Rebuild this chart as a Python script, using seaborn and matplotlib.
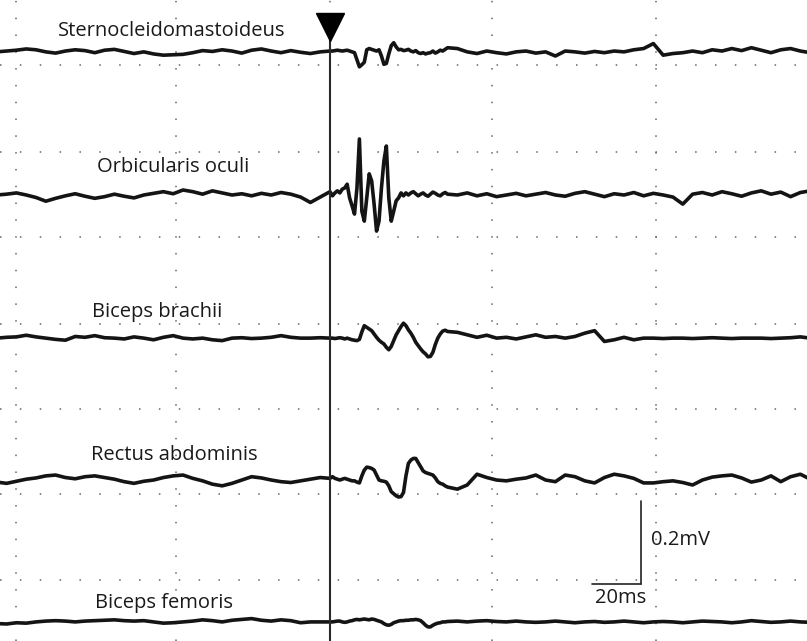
import numpy as np
import pandas as pd
import matplotlib
matplotlib.use('Agg')
import matplotlib.pyplot as plt
import seaborn as sns

# sample times (ms, stimulus at 0)
time_ms = [-136, -132, -128, -124, -120, -116, -112, -108, -104, -100,
           -96, -92, -88, -84, -80, -76, -72, -68, -64, -60,
           -56, -52, -48, -44, -40, -36, -32, -28, -24, -20,
           -16, -12, -8, -4, 0,
           1, 2, 3, 4, 5, 6, 7, 8, 9, 10, 11, 12, 13, 14, 15, 16,
           17, 18, 19, 20, 21, 22, 23, 24, 25, 26, 27, 28, 29, 30, 31, 32,
           33, 34, 35, 36, 37, 38, 39, 40, 41, 42, 43, 44, 45, 46, 47, 48,
           52, 56, 60, 64, 68, 72, 76, 80, 84, 88, 92, 96, 100, 104, 108,
           112, 116, 120, 124, 128, 132, 136, 140, 144, 148, 152, 156, 160,
           164, 168, 172, 176, 180, 184, 188, 192, 196]

# amplitudes (uV)
sterno = [0, 2, 4, 7, 5, 0, -3, 2, 5, 3, -2, 4, 6, 1, -4, 0, -5, -8, -7, -6,
          -2, 3, 1, 5, 2, -3, 4, 7, 2, -2, 3, -1, -4, 0, 2,
          2, 3, 4, 3, 2, 3, 4, 2, 0, -2, -19, -36, -31, -25, 5, 8,
          6, 4, 2, 5, -10, -30, -28, -5, 15, 22, 12, 5, 6, 3, 4, 6,
          2, 0, 3, -2, -4, -2, -5, -3, -2, 2, -3, 0, 4, 2, 6, 10,
          8, 0, -4, 2, -2, -5, 0, 2, -3, 0, -10, 2, 0, -3, 1,
          -2, 2, 0, 5, 8, 20, -8, -4, -2, 2, -2, 5, 2,
          8, 3, 10, 4, -2, 5, 8, 2, -2]

orbicularis = [0, 2, 5, 0, -6, -15, -8, -2, 3, -3, -8, -4, 2, -3, -7, 0, 4, 8, 3, 12,
               8, 2, 10, 5, 0, 3, -2, 4, 0, 6, 2, -5, -18, -5, 8,
               -2, 5, 10, 5, 14, 17, 26, -7, -26, -46, 17, 135, -39, -63, -7, 51,
               34, -22, -87, -63, 17, 82, 118, -7, -63, -39, -14, -7, 5, -2, 5, 0,
               5, 8, 3, -2, 2, 5, 0, -3, 2, 7, 4, 0, -2, 3, 6, 2,
               0, 5, -2, 3, -4, 0, 4, -2, 2, 6, 0, -3, 4, 8, 2,
               -4, 3, 0, 6, -2, 4, 0, -5, -22, 2, 6, 0, 8,
               3, -3, 5, 10, 2, 7, -4, 6, 10]

biceps_brachii = [0, 2, 3, 7, 3, 0, -3, -5, 4, 2, 6, 1, 0, -2, 3, 0, -4, 2, 6, 0,
                  -2, 0, -4, -6, 0, 1, -1, 0, 2, 6, 2, 0, 0, 1, 0,
                  0, -1, 0, 1, 0, -2, 0, -2, -4, -5, -6, -3, 15, 30, 26, 22,
                  18, 10, 2, -5, -10, -14, -22, -28, -20, -6, 8, 18, 28, 36, 30, 20,
                  12, 2, -10, -18, -26, -33, -38, -45, -44, -34, -15, 0, 10, 17, 19, 16,
                  14, 8, 2, 7, 0, 2, -2, 3, 8, 2, 4, 0, 4, 12, 18,
                  -8, -4, 2, -4, 0, 0, -1, 0, 0, -1, 0, 1, 0,
                  -1, 0, 0, 0, -1, 0, 1, 3, 0]

rectus = [-5, -8, -3, 2, 5, 10, 12, 6, 3, 8, 10, 6, 2, -4, -8, -3, 0, 6, 10, 12,
          4, -2, -10, -14, -8, 0, 8, 5, 0, -4, -6, -2, 2, 6, 4,
          8, 4, 2, 0, 2, 4, 2, 0, -2, -2, -5, -7, 10, 24, 31, 30,
          28, 24, 12, 0, -2, -3, -5, -14, -28, -33, -38, -41, -40, -30, 10, 40,
          48, 52, 52, 42, 32, 22, 18, 16, 14, 12, 5, -4, -8, -10, -14, -17,
          -22, -12, 14, 6, 0, -2, 2, 5, 12, 0, -4, 12, 8, -2, -7,
          6, 14, 10, 4, -7, -7, -4, -2, -6, -12, 0, 7, 10,
          12, 5, -5, 0, 10, -4, 8, 14, 2]

biceps_femoris = [-4, -5, -2, -3, 0, 2, 3, 2, 0, 2, 3, 4, 5, 3, 2, 3, 0, -3, -2, 0,
                  2, 5, 3, 0, 4, 6, 8, 4, 2, 5, 3, -2, 0, 0, 0,
                  0, 1, 2, 2, 0, -1, 0, 2, 3, 5, 6, 5, 6, 7, 6, 5,
                  7, 6, 4, 2, 0, -4, -7, -8, -6, -2, 0, 2, 3, 3, 4, 4,
                  5, 5, 6, 5, 3, -2, -8, -12, -12, -8, -5, -3, -2, 0, 0, 1,
                  2, 0, 2, 3, 1, 0, 2, 0, -1, 0, 2, 0, -2, 0, 1,
                  -1, 0, 2, 0, -2, 0, 1, 0, -2, 0, 2, 1, 0,
                  -2, 0, 3, 1, -1, 0, 2, 0, -1]

muscles = ['Sternocleidomastoideus', 'Orbicularis oculi', 'Biceps brachii',
           'Rectus abdominis', 'Biceps femoris']
traces = [sterno, orbicularis, biceps_brachii, rectus, biceps_femoris]

# layout (uV of vertical offset for each channel, label anchors)
offsets = [1420, 1075, 730, 388, 46]
label_t = [-111, -95, -97, -97.5, -96]
label_y = [1470, 1142, 793, 448, 92]

grid_t = [-128, -63, 0, 66, 133]
grid_y = [1388, 1178, 974, 764, 559, 354, 147]

stim_t = 0
bar_t, bar_y = 127, 137
bar_ms, bar_uv = 20, 200

rows = []
for name, amp, off in zip(muscles, traces, offsets):
    for t, a in zip(time_ms, amp):
        rows.append({'muscle': name, 't': t, 'v': off + a})
df = pd.DataFrame(rows)

sns.set_style('white')
plt.rcParams['font.family'] = ['Open Sans', 'DejaVu Sans']

fig = plt.figure(figsize=(8.07, 6.41), dpi=100)
ax = fig.add_axes([0, 0, 1, 1])

# dotted screen grid
for g in grid_t:
    ax.axvline(g, color='0.4', lw=1.1, ls=(0, (1, 10)), zorder=1)
for g in grid_y:
    ax.axhline(g, color='0.4', lw=1.1, ls=(0, (1, 12)), zorder=1)

sns.lineplot(data=df, x='t', y='v', hue='muscle', palette=['#141414'] * 5,
             estimator=None, sort=False, lw=2.6, legend=False, ax=ax, zorder=3)

# stimulus marker
ax.plot([stim_t, stim_t], [0, 1480], color='#2a2a2a', lw=1.5, zorder=4)
ax.plot([stim_t], [1481], marker='v', ms=20, color='black', zorder=5)

for name, lt, ly in zip(muscles, label_t, label_y):
    ax.text(lt, ly, name, fontsize=14.5, va='center', ha='left', color='#1a1a1a')

# scale bars
ax.plot([bar_t, bar_t], [bar_y, bar_y + bar_uv], color='#222', lw=1.2)
ax.plot([bar_t - bar_ms, bar_t], [bar_y, bar_y], color='#222', lw=1.2)
ax.text(bar_t + 4, bar_y + 106, '0.2mV', fontsize=14.5, va='center', ha='left', color='#1a1a1a')
ax.text(bar_t - 19, bar_y - 33, '20ms', fontsize=14.5, va='center', ha='left', color='#1a1a1a')

ax.set_xlim(-134.7, 194.7)
ax.set_ylim(0, 1545)
ax.axis('off')

fig.savefig('out.png', dpi=100)
